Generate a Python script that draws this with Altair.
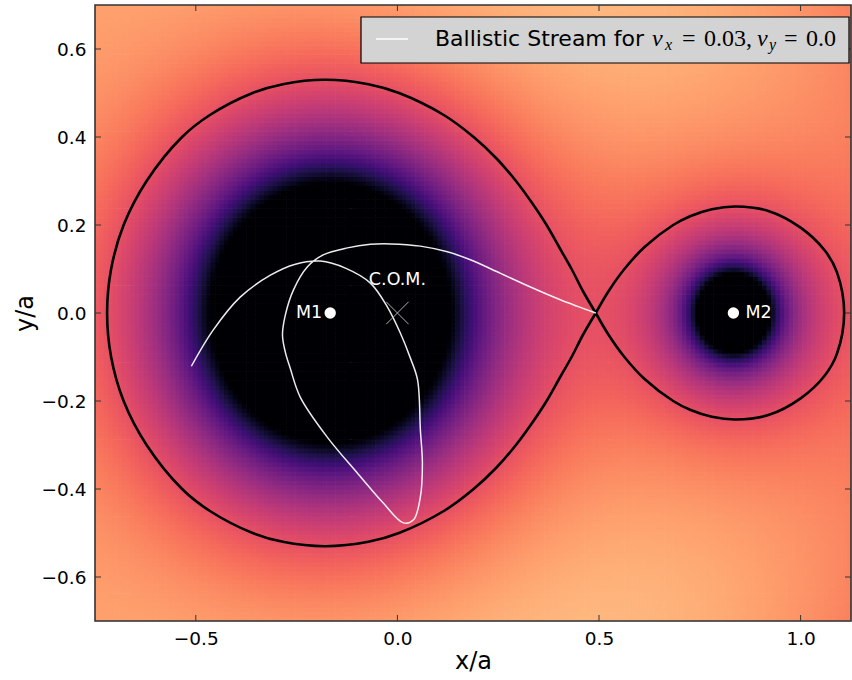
import numpy as np
import pandas as pd
import altair as alt

# ---------------- values ----------------
X_DOMAIN = [-0.75, 1.125]
Y_DOMAIN = [-0.7, 0.7]
COLOR_DOMAIN = [-3.03, -1.17]          # potential range mapped onto magma (clamped)

star_names = ["M1", "M2"]
star_x = [-0.16667, 0.83333]           # mass ratio q = 0.2, COM at origin
star_y = [0.0, 0.0]
star_mass = [0.83333, 0.16667]

com_x = [0.0]
com_y = [0.0]

x_ticks = [-0.5, 0.0, 0.5, 1.0]
y_ticks = [-0.6, -0.4, -0.2, 0.0, 0.2, 0.4, 0.6]

# Roche lobe of M1 (closed, starting and ending at L1)
lobe1_x = [0.492, 0.460, 0.432, 0.401, 0.370, 0.334, 0.294, 0.247, 0.189, 0.115, 0.004,
           -0.072, -0.180, -0.284, -0.359, -0.465, -0.534, -0.622, -0.679, -0.710, -0.720,
           -0.710, -0.679, -0.622, -0.534, -0.465, -0.359, -0.284, -0.180, -0.072,
           0.004, 0.115, 0.189, 0.247, 0.294, 0.334, 0.370, 0.401, 0.432, 0.460, 0.492]
lobe1_y = [0.000, 0.050, 0.100, 0.150, 0.200, 0.250, 0.300, 0.350, 0.400, 0.450, 0.500,
           0.520, 0.530, 0.520, 0.500, 0.450, 0.400, 0.300, 0.200, 0.100, 0.000,
           -0.100, -0.200, -0.300, -0.400, -0.450, -0.500, -0.520, -0.530, -0.520,
           -0.500, -0.450, -0.400, -0.350, -0.300, -0.250, -0.200, -0.150, -0.100, -0.050, 0.000]

# Roche lobe of M2
lobe2_x = [0.492, 0.524, 0.563, 0.613, 0.684, 0.726, 0.780, 0.840, 0.920, 1.000, 1.060,
           1.090, 1.108,
           1.090, 1.060, 1.000, 0.920, 0.840, 0.780, 0.726, 0.684, 0.613, 0.563, 0.524, 0.492]
lobe2_y = [0.000, 0.050, 0.100, 0.150, 0.200, 0.220, 0.236, 0.242, 0.232, 0.194, 0.142,
           0.093, 0.000,
           -0.093, -0.142, -0.194, -0.232, -0.242, -0.236, -0.220, -0.200, -0.150, -0.100,
           -0.050, 0.000]

# Ballistic stream, from L1 onwards
stream_x = [0.492, 0.447, 0.404, 0.330, 0.256, 0.181, 0.124, 0.057, -0.017, -0.067,
            -0.124, -0.184, -0.223, -0.258, -0.278, -0.285, -0.278, -0.266, -0.241,
            -0.174, -0.099, -0.035, 0.015, 0.040, 0.057, 0.062, 0.057, 0.050, 0.032,
            0.007, -0.025, -0.067, -0.129, -0.191, -0.253, -0.315, -0.390, -0.457, -0.511]
stream_y = [0.000, 0.015, 0.030, 0.059, 0.090, 0.121, 0.139, 0.152, 0.157, 0.156,
            0.148, 0.132, 0.105, 0.052, -0.005, -0.050, -0.089, -0.125, -0.191,
            -0.282, -0.364, -0.432, -0.477, -0.470, -0.418, -0.341, -0.266, -0.152, -0.102,
            -0.045, 0.014, 0.068, 0.102, 0.118, 0.111, 0.086, 0.036, -0.039, -0.121]

# ---------------- Roche potential field ----------------
nx, ny = 170, 136
dx = (X_DOMAIN[1] - X_DOMAIN[0]) / nx
dy = (Y_DOMAIN[1] - Y_DOMAIN[0]) / ny
xs = X_DOMAIN[0] + dx * (np.arange(nx) + 0.5)
ys = Y_DOMAIN[0] + dy * (np.arange(ny) + 0.5)
GX, GY = np.meshgrid(xs, ys)
phi = -0.5 * (GX ** 2 + GY ** 2)
for sx, sy, m in zip(star_x, star_y, star_mass):
    phi = phi - m / np.sqrt((GX - sx) ** 2 + (GY - sy) ** 2 + 1e-9)
phi = np.maximum(phi, -10.0)
grid = pd.DataFrame({"xc": GX.ravel().round(5), "yc": GY.ravel().round(5),
                     "phi": phi.ravel().round(4)})

lobes = pd.concat([
    pd.DataFrame({"x": lobe1_x, "y": lobe1_y, "lobe": "L1", "i": range(len(lobe1_x))}),
    pd.DataFrame({"x": lobe2_x, "y": lobe2_y, "lobe": "L2", "i": range(len(lobe2_x))}),
])
stream = pd.DataFrame({"x": stream_x, "y": stream_y, "i": range(len(stream_x))})
stars = pd.DataFrame({"name": star_names, "x": star_x, "y": star_y})
com = pd.DataFrame({"x": com_x, "y": com_y, "label": ["C.O.M."]})
xt = pd.DataFrame({"v": x_ticks})
yt = pd.DataFrame({"v": y_ticks})

W, H = 756, 616
FONT = "DejaVu Sans"
xs_ = alt.Scale(domain=X_DOMAIN, nice=False, zero=False)
ys_ = alt.Scale(domain=Y_DOMAIN, nice=False, zero=False)
minus = "replace(datum.label, '-', '\u2212')"

x_axis = alt.Axis(title="x/a", values=x_ticks, format=".1f", labelExpr=minus, ticks=False,
                  domain=False, grid=False, labelFontSize=18.5, labelPadding=8,
                  labelColor="black", titleFontSize=24, titleFontWeight="normal",
                  titleColor="black", titlePadding=2, labelFont=FONT, titleFont=FONT)
y_axis = alt.Axis(title="y/a", values=y_ticks, format=".1f", labelExpr=minus, ticks=False,
                  domain=False, grid=False, labelFontSize=18.5, labelPadding=9,
                  labelColor="black", titleFontSize=24, titleFontWeight="normal",
                  titleColor="black", titlePadding=4, labelFont=FONT, titleFont=FONT)


def X(f):
    return alt.X(f, scale=xs_, axis=x_axis)


def Y(f):
    return alt.Y(f, scale=ys_, axis=y_axis)


heat = alt.Chart(grid).transform_calculate(
    x0=f"datum.xc - {dx/2}", x1=f"datum.xc + {dx*0.65}",
    y0=f"datum.yc - {dy/2}", y1=f"datum.yc + {dy*0.65}",
).mark_rect(clip=True, strokeWidth=0).encode(
    x=X("x0:Q"), x2="x1:Q", y=Y("y0:Q"), y2="y1:Q",
    color=alt.Color("phi:Q", scale=alt.Scale(scheme="magma", domain=COLOR_DOMAIN, clamp=True),
                    legend=None),
)

lobe_layer = alt.Chart(lobes).mark_line(color="black", strokeWidth=2.6,
                                        interpolate="catmull-rom", clip=True).encode(
    x=X("x:Q"), y=Y("y:Q"), detail="lobe:N", order="i:Q")

stream_layer = alt.Chart(stream).mark_line(color="white", strokeWidth=1.5, opacity=0.92,
                                           interpolate="catmull-rom", clip=True).encode(
    x=X("x:Q"), y=Y("y:Q"), order="i:Q")

star_pts = alt.Chart(stars).mark_point(filled=True, color="white", size=130, opacity=1,
                                       shape="circle").encode(x=X("x:Q"), y=Y("y:Q"))

m1_lab = alt.Chart(stars).transform_filter("datum.name == 'M1'").mark_text(
    align="right", baseline="middle", dx=-8, fontSize=17.5, color="white", font=FONT).encode(
    x=X("x:Q"), y=Y("y:Q"), text="name:N")
m2_lab = alt.Chart(stars).transform_filter("datum.name == 'M2'").mark_text(
    align="left", baseline="middle", dx=12, fontSize=17.5, color="white", font=FONT).encode(
    x=X("x:Q"), y=Y("y:Q"), text="name:N")

com_mark = alt.Chart(com).mark_point(shape="M -1 -1 L 1 1 M -1 1 L 1 -1", filled=False,
                                     color="#b0b0b0", strokeWidth=1, size=500, opacity=1).encode(
    x=X("x:Q"), y=Y("y:Q"))
com_lab = alt.Chart(com).mark_text(align="center", baseline="middle", dy=-33, fontSize=17.5,
                                   color="white", font=FONT).encode(
    x=X("x:Q"), y=Y("y:Q"), text="label:N")

# inward ticks on all four sides
tk = dict(color="#333333", strokeWidth=1)
tb = alt.Chart(xt).mark_rule(**tk).encode(x=X("v:Q"), y=alt.value(H), y2=alt.value(H - 6))
tt = alt.Chart(xt).mark_rule(**tk).encode(x=X("v:Q"), y=alt.value(0), y2=alt.value(6))
tl = alt.Chart(yt).mark_rule(**tk).encode(y=Y("v:Q"), x=alt.value(0), x2=alt.value(6))
tr = alt.Chart(yt).mark_rule(**tk).encode(y=Y("v:Q"), x=alt.value(W), x2=alt.value(W - 6))

one = alt.Data(values=[{}])
frame = alt.Chart(one).mark_rect(fill="transparent", stroke="#333333", strokeWidth=1.6).encode(
    x=alt.value(0), x2=alt.value(W), y=alt.value(0), y2=alt.value(H))

# legend box (pixel layout inside plot area: plot origin is at page (95, 5))
LX, LY = 95, 5
leg_box = alt.Chart(one).mark_rect(fill="#d3d3d3", stroke="black", strokeWidth=1.2).encode(
    x=alt.value(361 - LX), x2=alt.value(849 - LX), y=alt.value(17 - LY), y2=alt.value(63 - LY))
leg_line = alt.Chart(one).mark_rule(color="white", strokeWidth=1.5).encode(
    x=alt.value(376 - LX), x2=alt.value(408 - LX), y=alt.value(39 - LY))


def txt(s, px, py, size, font=FONT, style="normal"):
    return alt.Chart(one).mark_text(text=s, align="left", baseline="alphabetic", fontSize=size,
                                    font=font, fontStyle=style, color="black").encode(
        x=alt.value(px - LX), y=alt.value(py - LY))


SERIF = "Liberation Serif"
legend_texts = [
    txt("Ballistic Stream for", 435, 46, 22),
    txt("v", 652, 46, 24, SERIF, "italic"),
    txt("x", 665, 50, 16, SERIF, "italic"),
    txt("=", 682, 46, 24, SERIF),
    txt("0.03,", 704, 46, 24, SERIF),
    txt("v", 757, 46, 24, SERIF, "italic"),
    txt("y", 769, 50, 16, SERIF, "italic"),
    txt("=", 784, 46, 24, SERIF),
    txt("0.0", 806, 46, 24, SERIF),
]

chart = alt.layer(
    heat, lobe_layer, stream_layer, star_pts, m1_lab, m2_lab, com_mark, com_lab,
    tb, tt, tl, tr, frame, leg_box, leg_line, *legend_texts
).properties(
    width=W, height=H,
    padding={"left": 95, "top": 5, "right": 1, "bottom": 59},
    autosize="none",
    background="white",
).configure_view(strokeWidth=0).configure(font=FONT)

chart.save("out.html", embed_options={"renderer": "svg", "actions": False})
